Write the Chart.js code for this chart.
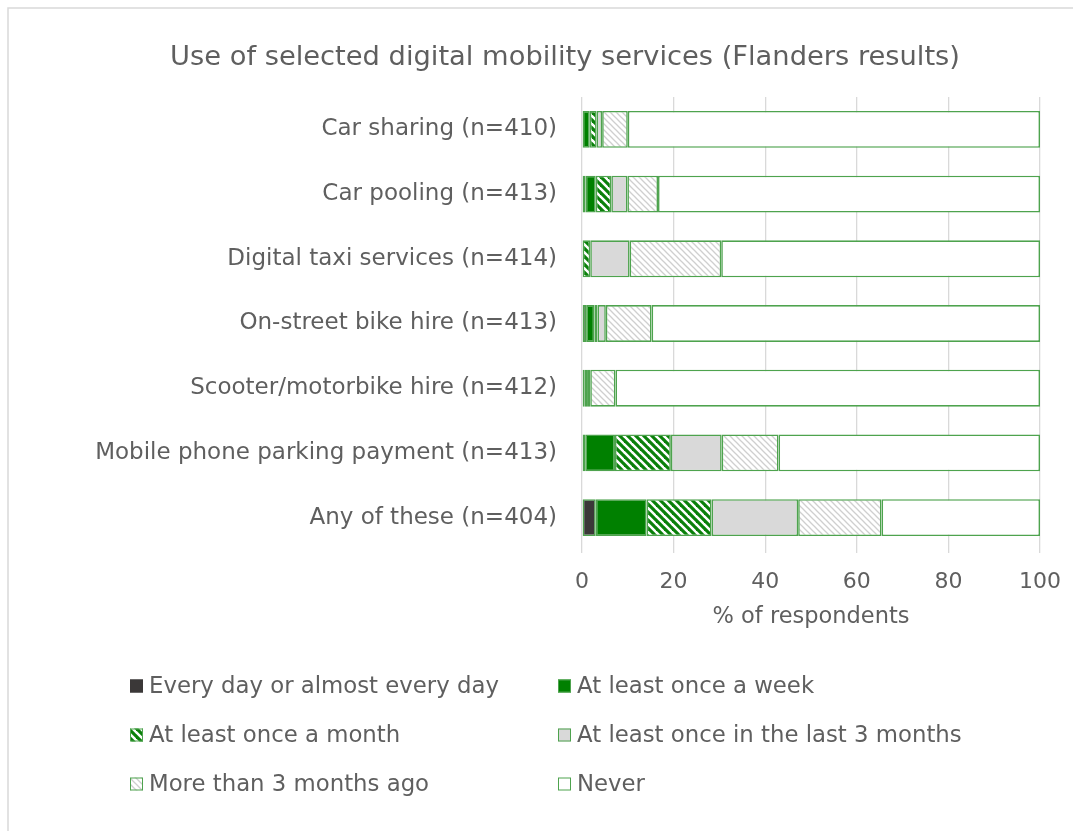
<!DOCTYPE html>
<html>
<head>
<meta charset="utf-8">
<script src="https://cdn.jsdelivr.net/npm/chart.js@4"></script>
<style>
  html, body { margin: 0; padding: 0; background: #ffffff; }
  #wrap { width: 1073px; height: 831px; position: relative; }
</style>
</head>
<body>
<div id="wrap"><canvas id="chart" width="1073" height="831"></canvas></div>
<script>
// Services surveyed (y axis)
const categories = [
  'Car sharing (n=410)',
  'Car pooling (n=413)',
  'Digital taxi services (n=414)',
  'On-street bike hire (n=413)',
  'Scooter/motorbike hire (n=412)',
  'Mobile phone parking payment (n=413)',
  'Any of these (n=404)'
];

// Share of respondents (%) per frequency of use
const everyDay     = [0.0, 0.8, 0.0, 0.9, 0.0, 0.7, 3.0];
const weekly       = [1.7, 2.2, 0.0, 1.8, 0.6, 6.5, 11.1];
const monthly      = [1.5, 3.4, 1.8, 0.7, 0.7, 12.2, 14.2];
const last3Months  = [1.2, 3.5, 8.6, 1.8, 0.5, 11.1, 18.9];
const over3Months  = [5.6, 6.7, 20.0, 10.0, 5.5, 12.4, 18.2];
const never        = [90.0, 83.4, 69.6, 84.8, 92.7, 57.1, 34.6];

const seriesLabels = [
  'Every day or almost every day',
  'At least once a week',
  'At least once a month',
  'At least once in the last 3 months',
  'More than 3 months ago',
  'Never'
];

const chartTitle = 'Use of selected digital mobility services (Flanders results)';

// x axis ticks
const xTicks = [0, 20, 40, 60, 80, 100];

const FONT = "'DejaVu Sans', sans-serif";
const TEXT = '#5f5f5f';
const EDGE = '#4ea34e';

// Diagonal stripe fill ("\\\" direction)
function stripes(bg, fg, period, lw) {
  const c = document.createElement('canvas');
  c.width = period; c.height = period;
  const g = c.getContext('2d');
  g.fillStyle = bg; g.fillRect(0, 0, period, period);
  g.strokeStyle = fg; g.lineWidth = lw; g.lineCap = 'square';
  for (let k = -1; k <= 1; k++) {
    g.beginPath();
    g.moveTo(k * period, 0);
    g.lineTo(k * period + period, period);
    g.stroke();
  }
  return g.createPattern(c, 'repeat');
}
const ctx0 = document.getElementById('chart').getContext('2d');
const monthPattern = stripes('#ffffff', '#0a800a', 8, 3.2);
const olderPattern = stripes('#ffffff', '#cfcfcf', 6, 1.3);

const fills = ['#3b3838', '#008000', monthPattern, '#d9d9d9', olderPattern, '#ffffff'];
const seriesData = [everyDay, weekly, monthly, last3Months, over3Months, never];

const datasets = seriesData.map((d, i) => ({
  label: seriesLabels[i],
  data: d,
  backgroundColor: fills[i],
  borderColor: EDGE,
  borderWidth: 1.6,
  borderSkipped: false,
  barPercentage: 0.57,
  categoryPercentage: 1.0
}));

// White page with a thin frame on the top/left edges, plus the heading
const framePlugin = {
  id: 'frame',
  beforeDraw(chart) {
    const c = chart.ctx;
    c.save();
    c.fillStyle = '#ffffff';
    c.fillRect(0, 0, chart.width, chart.height);
    c.strokeStyle = '#d9d9d9';
    c.lineWidth = 1.5;
    c.beginPath();
    c.moveTo(8, chart.height + 5);
    c.lineTo(8, 8);
    c.lineTo(chart.width + 5, 8);
    c.stroke();
    c.font = "27.3px " + FONT;
    c.fillStyle = TEXT;
    c.textAlign = 'center';
    c.textBaseline = 'middle';
    c.fillText(chartTitle, 565, 58);
    c.restore();
  }
};

// Two-column legend under the axis
const legendPlugin = {
  id: 'gridLegend',
  afterDraw(chart) {
    const c = chart.ctx;
    const colX = [130, 558];
    const rowY = [686, 735, 784];
    const box = 13;
    c.save();
    c.font = "22.8px " + FONT;
    c.textBaseline = 'middle';
    chart.data.datasets.forEach((ds, i) => {
      const x = colX[i % 2];
      const y = rowY[Math.floor(i / 2)];
      c.fillStyle = ds.backgroundColor;
      c.fillRect(x, y - box / 2, box, box);
      c.strokeStyle = i === 0 ? '#3b3838' : EDGE;
      c.lineWidth = 1;
      c.strokeRect(x + 0.5, y - box / 2 + 0.5, box - 1, box - 1);
      c.fillStyle = TEXT;
      c.fillText(ds.label, x + box + 6, y + 1);
    });
    c.restore();
  }
};

new Chart(ctx0, {
  type: 'bar',
  data: { labels: categories, datasets },
  options: {
    indexAxis: 'y',
    responsive: false,
    animation: false,
    layout: { padding: { left: 8, right: 33, top: 97, bottom: 181 } },
    plugins: {
      legend: { display: false },
      tooltip: { enabled: false },
      title: { display: false }
    },
    scales: {
      x: {
        stacked: true,
        min: 0, max: 100,
        afterBuildTicks(s) { s.ticks = xTicks.map(v => ({ value: v })); },
        afterFit(s) { s.height = 100; s.paddingLeft = 0; s.paddingRight = 0; },
        grid: { color: '#d9d9d9', lineWidth: 1.3, tickLength: 3, drawTicks: true },
        border: { display: false },
        ticks: { color: TEXT, font: { family: FONT, size: 22 }, padding: 16 },
        title: {
          display: true, text: '% of respondents', color: TEXT,
          font: { family: FONT, size: 22.5 }, padding: { top: 0, bottom: 19 }
        }
      },
      y: {
        stacked: true,
        afterFit(s) { s.width = 574; s.paddingTop = 0; s.paddingBottom = 0; },
        grid: { display: false, drawTicks: false },
        border: { display: false },
        ticks: { color: TEXT, font: { family: FONT, size: 23 }, padding: 25 }
      }
    }
  },
  plugins: [framePlugin, legendPlugin]
});
</script>
</body>
</html>
